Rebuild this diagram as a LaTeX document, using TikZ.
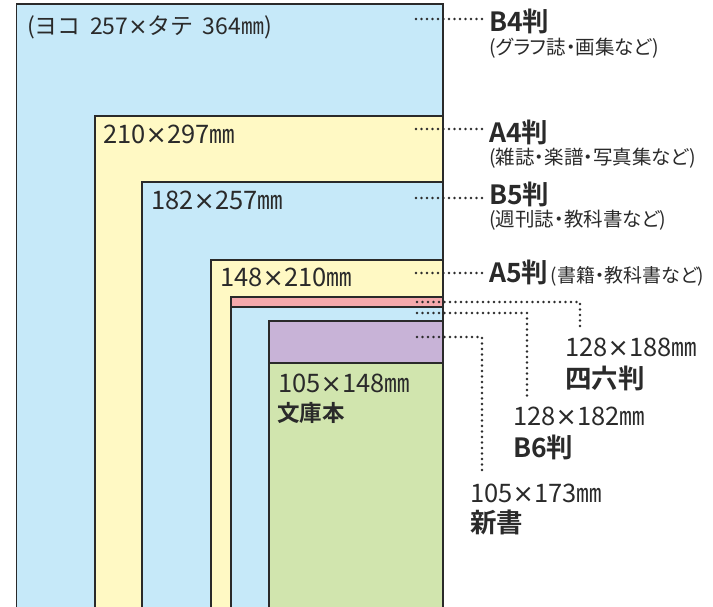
\documentclass[tikz,border=0pt]{standalone}
\usepackage{fontspec}
\setmainfont[BoldFont={Noto Sans CJK JP Bold}]{Noto Sans CJK JP}
\newfontfamily\latinfont{DejaVu Sans}
\newfontfamily\notefont[RawFeature=+palt]{Noto Sans CJK JP}
\newcommand{\kakeru}{{\latinfont ×}}
\usetikzlibrary{positioning}
\definecolor{bsize}{HTML}{C6E9F9}
\definecolor{asize}{HTML}{FFF9C4}
\definecolor{shiroku}{HTML}{F5A9AC}
\definecolor{shinsho}{HTML}{C8B3D7}
\definecolor{bunko}{HTML}{D1E5AE}
\definecolor{ink}{HTML}{2A2A2A}
\tikzset{
  sheet/.style={draw=ink, line width=1.4pt},
  leader/.style={draw=ink, line width=2.8pt, line cap=round, dash pattern=on 0pt off 5.5pt},
  mmtext/.style={inner sep=0pt, anchor=base west, text=ink, font=\fontsize{25.5}{25.5}\selectfont},
  pantext/.style={inner sep=0pt, anchor=base west, text=ink, font=\bfseries\fontsize{26.5}{26.5}\selectfont},
  usetext/.style={inner sep=0pt, anchor=base west, text=ink, font=\notefont\fontsize{19.5}{19.5}\selectfont}
}
\begin{document}
\begin{tikzpicture}[x=1pt,y=-1pt]
			\useasboundingbox (0,0) rectangle (713,607);
			% sheets
			\scope
			\clip (0,0) rectangle (713,607);
			\filldraw[sheet,fill=bsize] (16.5,4) rectangle (443,620);
			\filldraw[sheet,fill=asize] (95,116) rectangle (443,620);
			\filldraw[sheet,fill=bsize] (142,182) rectangle (443,620);
			\filldraw[sheet,fill=asize] (211,260) rectangle (443,620);
			\filldraw[sheet,fill=shiroku] (231,297) rectangle (443,620);
			\filldraw[sheet,fill=bsize] (231,307) rectangle (443,620);
			\filldraw[sheet,fill=shinsho] (269,321) rectangle (443,620);
			\filldraw[sheet,fill=bunko] (269,363) rectangle (443,620);
			\endscope
			% sizes inside
			\node[mmtext,font=\fontsize{23}{23}\selectfont] (b4size) at (27,35) {(ヨコ\hspace{.4em}257\kakeru タテ\hspace{.4em}364㎜)};
			\node[mmtext] (a4size) at (103,144) {210\kakeru 297㎜};
			\node[mmtext] (b5size) at (151,210) {182\kakeru 257㎜};
			\node[mmtext] (a5size) at (220,287) {148\kakeru 210㎜};
			\node[mmtext] (bunkosize) at (278,392) {105\kakeru 148㎜};
			\node[pantext,font=\bfseries\fontsize{22.5}{22.5}\selectfont] (bunko) at (277,421) {文庫本};
			% names on the right
			\node[pantext] (b4) at (489,32) {B4判};
			\node[usetext] (b4note) at (489,55) {(グラフ誌・画集など)};
			\node[pantext] (a4) at (489,143) {A4判};
			\node[usetext] (a4note) at (489,165) {(雑誌・楽譜・写真集など)};
			\node[pantext] (b5) at (489,205) {B5判};
			\node[usetext] (b5note) at (489,227) {(週刊誌・教科書など)};
			\node[pantext] (a5) at (489,283) {A5判};
			\node[usetext,font=\notefont\fontsize{19}{19}\selectfont] (a5note) at ([xshift=2pt]a5.base east) {(書籍・教科書など)};
			\node[mmtext] (shirokusize) at (565,356) {128\kakeru 188㎜};
			\node[pantext] (shirokuname) at (565,388) {四六判};
			\node[mmtext] (b6size) at (513,425) {128\kakeru 182㎜};
			\node[pantext] (b6) at (513,457) {B6判};
			\node[mmtext] (shinshosize) at (470,502) {105\kakeru 173㎜};
			\node[pantext] (shinsho) at (470,532) {新書};
			% leaders
			\coordinate (b4dot) at (416,19);
			\coordinate (a4dot) at (416,129);
			\coordinate (b5dot) at (416,198);
			\coordinate (a5dot) at (416,273);
			\coordinate (shirokudot) at (417,302);
			\coordinate (b6dot) at (417,313);
			\coordinate (shinshodot) at (417,337);
			\coordinate (shirokuend) at (580,330);
			\coordinate (b6end) at (527,398);
			\coordinate (shinshoend) at (482,475);
			\draw[leader,shorten >=6pt] (b4dot) -- (b4dot -| b4.west);
			\draw[leader,shorten >=6pt] (a4dot) -- (a4dot -| a4.west);
			\draw[leader,shorten >=6pt] (b5dot) -- (b5dot -| b5.west);
			\draw[leader,shorten >=6pt] (a5dot) -- (a5dot -| a5.west);
			\draw[leader] (shirokudot) -| (shirokuend);
			\draw[leader] (b6dot) -| (b6end);
			\draw[leader] (shinshodot) -| (shinshoend);
		\end{tikzpicture}
\end{document}
